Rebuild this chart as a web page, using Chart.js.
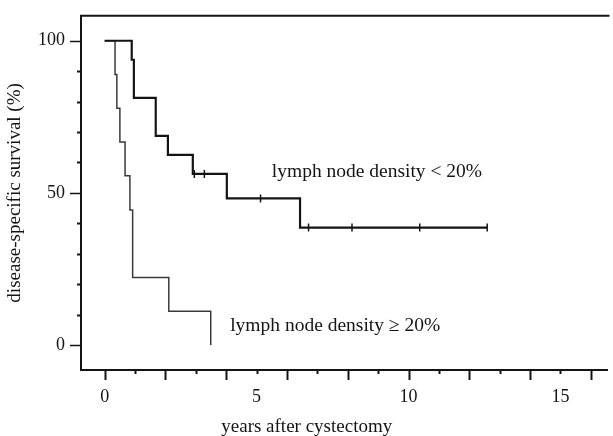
<!DOCTYPE html>
<html>
<head>
<meta charset="utf-8">
<script src="https://cdn.jsdelivr.net/npm/chart.js@4.4.1/dist/chart.umd.min.js"></script>
<style>
  html, body { margin: 0; padding: 0; background: #fff; }
  #wrap { width: 613px; height: 436px; position: relative; }
</style>
</head>
<body>
<div id="wrap"><canvas id="c"></canvas></div>
<script>
// ---- data ----
const lowTimes  = [0, 0.34, 0.40, 0.50, 0.67, 0.83, 0.92, 2.11, 3.49];
const lowSurv   = [100, 88.9, 77.8, 66.7, 55.6, 44.4, 22.2, 11.1, 0];
const highTimes = [0, 0.89, 0.96, 1.68, 2.08, 2.90, 4.02, 6.43, 12.60];
const highSurv  = [100, 93.75, 81.25, 68.75, 62.5, 56.25, 48.2, 38.6, 38.6];
const censorTimes = [2.95, 3.28, 5.13, 6.71, 8.14, 10.37, 12.59];
const censorSurv  = [56.25, 56.25, 48.2, 38.6, 38.6, 38.6, 38.6];
const xTickValues = [0,1,2,3,4,5,6,7,8,9,10,11,12,13,14,15,16];
const xTickLabels = ['0','5','10','15'];
const yTickValues = [0,10,20,30,40,50,60,70,80,90,100];
const yTickLabels = ['0','50','100'];
const labelHigh = 'lymph node density < 20%';
const labelLow  = 'lymph node density \u2265 20%';
const xTitle = 'years after cystectomy';
const yTitle = 'disease-specific survival (%)';

const SERIF = "'Liberation Serif', 'DejaVu Serif', serif";
const INK = '#141414';

const toPts = (xs, ys) => xs.map((x, i) => ({x, y: ys[i]}));

const decor = {
  id: 'decor',
  afterDraw(chart) {
    const {ctx, chartArea: a, scales: {x, y}} = chart;
    ctx.save();
    ctx.strokeStyle = INK;
    // top frame line
    ctx.lineWidth = 2;
    ctx.beginPath();
    ctx.moveTo(a.left - 1, a.top);
    ctx.lineTo(a.right + 2, a.top);
    ctx.stroke();
    // x ticks: long at even years, short at odd
    ctx.lineWidth = 2;
    xTickValues.forEach(v => {
      const px = Math.round(x.getPixelForValue(v)) + 0.5;
      const len = v % 2 === 0 ? 10 : 4;
      ctx.beginPath();
      ctx.moveTo(px, a.bottom);
      ctx.lineTo(px, a.bottom + len);
      ctx.stroke();
    });
    // y ticks: long at 0/50/100, short elsewhere
    yTickValues.forEach(v => {
      const py = Math.round(y.getPixelForValue(v)) + 0.5;
      const len = v % 50 === 0 ? 11 : 4;
      ctx.lineWidth = v % 50 === 0 ? 1.5 : 2;
      ctx.beginPath();
      ctx.moveTo(a.left, py);
      ctx.lineTo(a.left - len, py);
      ctx.stroke();
    });
    // annotations
    ctx.fillStyle = INK;
    ctx.font = '19.5px ' + SERIF;
    ctx.textBaseline = 'middle';
    ctx.textAlign = 'left';
    ctx.fillText(labelHigh, x.getPixelForValue(5.5), y.getPixelForValue(57.0));
    ctx.fillText(labelLow, x.getPixelForValue(4.13), y.getPixelForValue(6.45));
    // x axis title
    ctx.font = '19px ' + SERIF;
    ctx.textAlign = 'center';
    ctx.fillText(xTitle, x.getPixelForValue(6.65), 427);
    ctx.restore();
  }
};

new Chart(document.getElementById('c'), {
  type: 'line',
  data: {
    datasets: [
      {
        label: labelHigh,
        data: toPts(highTimes, highSurv),
        stepped: true,
        borderColor: INK,
        borderWidth: 2.2,
        pointRadius: 0,
        fill: false
      },
      {
        label: labelLow,
        data: toPts(lowTimes, lowSurv),
        stepped: true,
        borderColor: '#3a3a3a',
        borderWidth: 1.5,
        pointRadius: 0,
        fill: false
      },
      {
        label: 'censored',
        type: 'scatter',
        data: toPts(censorTimes, censorSurv),
        showLine: false,
        pointStyle: 'line',
        rotation: 90,
        pointRadius: 4,
        borderColor: INK,
        borderWidth: 1.5,
        backgroundColor: INK
      }
    ]
  },
  options: {
    responsive: true,
    maintainAspectRatio: false,
    animation: false,
    layout: { padding: { top: 13, right: 0, left: 0, bottom: 0 } },
    plugins: { legend: { display: false }, tooltip: { enabled: false } },
    scales: {
      x: {
        type: 'linear',
        min: -0.78,
        max: 16.55,
        afterFit: s => { s.height = 66; },
        afterBuildTicks: s => { s.ticks = xTickValues.map(v => ({value: v})); },
        ticks: {
          autoSkip: false,
          maxRotation: 0,
          padding: 6,
          color: INK,
          font: { family: SERIF, size: 18 },
          callback: v => (xTickLabels.includes(String(v)) ? String(v) : '')
        },
        grid: { drawOnChartArea: false, tickLength: 10, tickColor: 'rgba(0,0,0,0)' },
        border: { display: true, color: INK, width: 2 }
      },
      y: {
        min: -8.2,
        max: 108.2,
        afterFit: s => { s.width = 81; },
        afterBuildTicks: s => { s.ticks = yTickLabels.map(v => ({value: Number(v)})); },
        ticks: {
          padding: 5,
          color: INK,
          font: { family: SERIF, size: 18 },
          callback: v => String(v)
        },
        grid: { drawOnChartArea: false, tickLength: 11, tickColor: 'rgba(0,0,0,0)' },
        border: { display: true, color: INK, width: 2 },
        title: {
          display: true,
          text: yTitle,
          color: INK,
          font: { family: SERIF, size: 19 },
          padding: { top: 4, bottom: 0 }
        }
      }
    }
  },
  plugins: [decor]
});
</script>
</body>
</html>
